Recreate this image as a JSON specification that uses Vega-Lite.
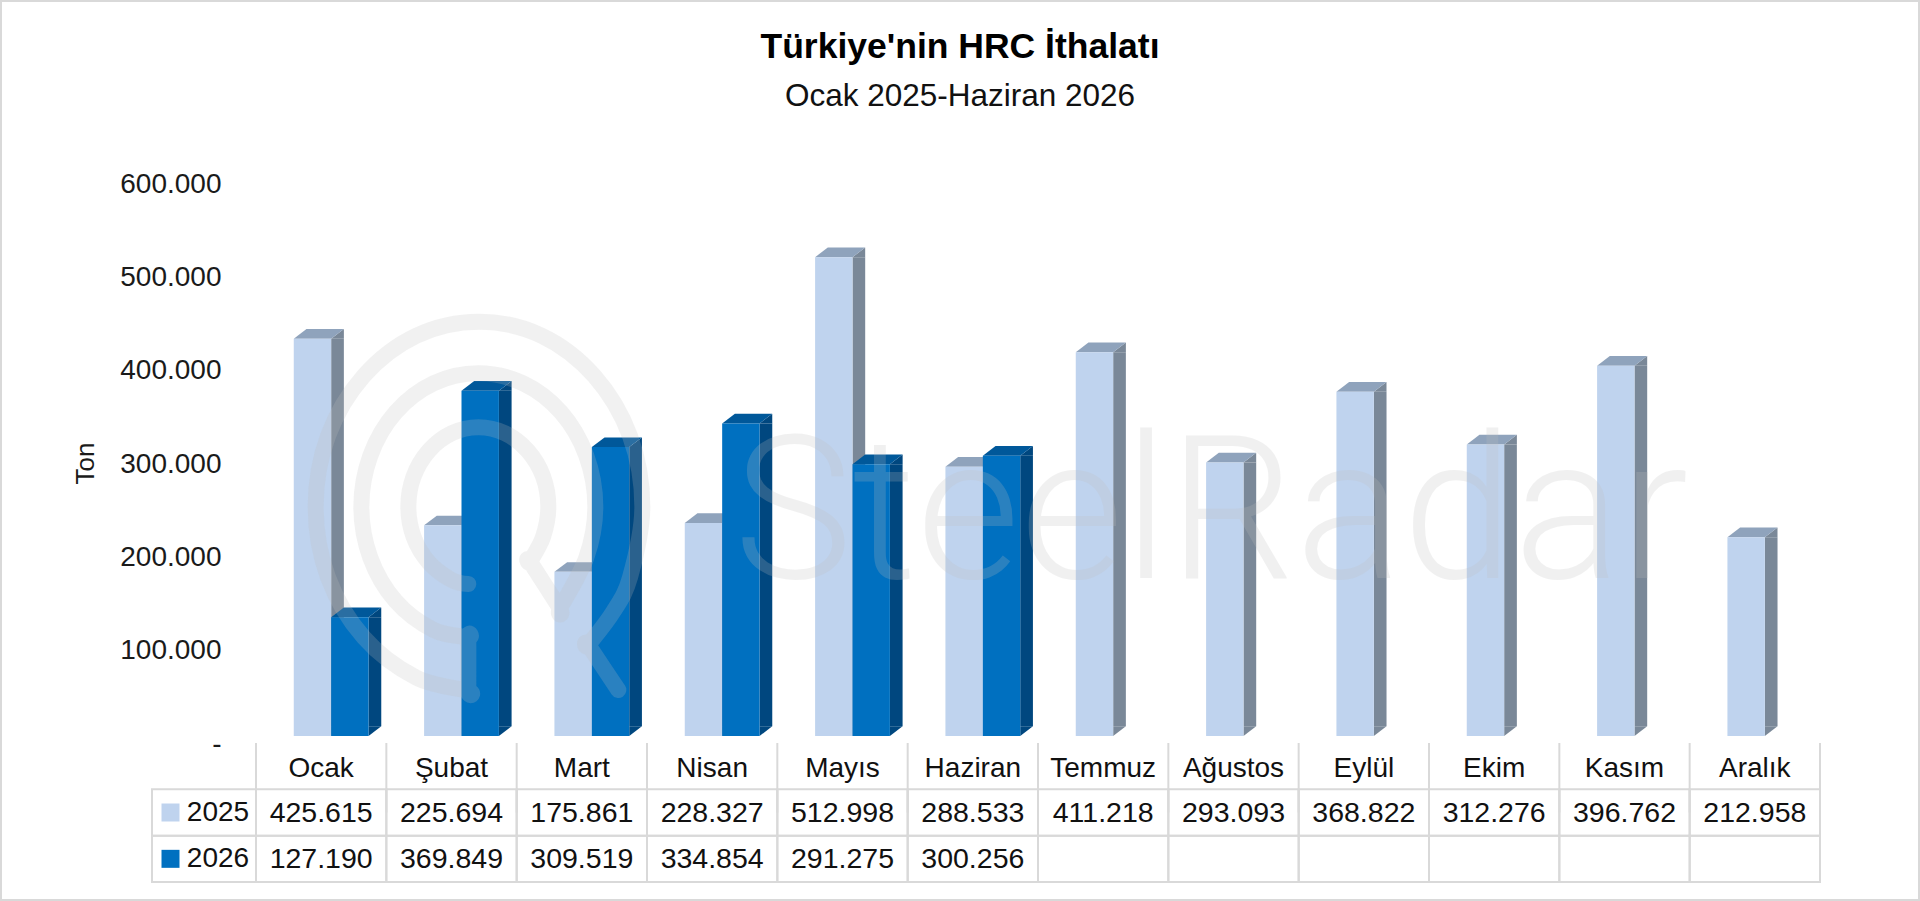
{
"$schema":"https://vega.github.io/schema/vega-lite/v6.json",
"width":1920,"height":901,"padding":0,"autosize":"none","background":"white",
"view":{"stroke":"#d9d9d9","strokeWidth":4,"fill":"white"},
"title":{"text":"Türkiye'nin HRC İthalatı","subtitle":"Ocak 2025-Haziran 2026","anchor":"middle","font":"Liberation Sans","fontWeight":"bold","fontSize":35.5,"color":"#000000","subtitleFont":"Liberation Sans","subtitleFontSize":31.5,"subtitleColor":"#111111","subtitlePadding":15,"dy":116,"frame":"group"},
"datasets":{
"bars":[
{"ay":"Ocak","yil":"2025","ton":425615},{"ay":"Şubat","yil":"2025","ton":225694},{"ay":"Mart","yil":"2025","ton":175861},{"ay":"Nisan","yil":"2025","ton":228327},{"ay":"Mayıs","yil":"2025","ton":512998},{"ay":"Haziran","yil":"2025","ton":288533},{"ay":"Temmuz","yil":"2025","ton":411218},{"ay":"Ağustos","yil":"2025","ton":293093},{"ay":"Eylül","yil":"2025","ton":368822},{"ay":"Ekim","yil":"2025","ton":312276},{"ay":"Kasım","yil":"2025","ton":396762},{"ay":"Aralık","yil":"2025","ton":212958},
{"ay":"Ocak","yil":"2026","ton":127190},{"ay":"Şubat","yil":"2026","ton":369849},{"ay":"Mart","yil":"2026","ton":309519},{"ay":"Nisan","yil":"2026","ton":334854},{"ay":"Mayıs","yil":"2026","ton":291275},{"ay":"Haziran","yil":"2026","ton":300256}
],
"table":[
{"ay":"Ocak","satir":"ay","metin":"Ocak"},{"ay":"Şubat","satir":"ay","metin":"Şubat"},{"ay":"Mart","satir":"ay","metin":"Mart"},{"ay":"Nisan","satir":"ay","metin":"Nisan"},{"ay":"Mayıs","satir":"ay","metin":"Mayıs"},{"ay":"Haziran","satir":"ay","metin":"Haziran"},{"ay":"Temmuz","satir":"ay","metin":"Temmuz"},{"ay":"Ağustos","satir":"ay","metin":"Ağustos"},{"ay":"Eylül","satir":"ay","metin":"Eylül"},{"ay":"Ekim","satir":"ay","metin":"Ekim"},{"ay":"Kasım","satir":"ay","metin":"Kasım"},{"ay":"Aralık","satir":"ay","metin":"Aralık"},
{"ay":"Ocak","satir":"2025","metin":"425.615"},{"ay":"Şubat","satir":"2025","metin":"225.694"},{"ay":"Mart","satir":"2025","metin":"175.861"},{"ay":"Nisan","satir":"2025","metin":"228.327"},{"ay":"Mayıs","satir":"2025","metin":"512.998"},{"ay":"Haziran","satir":"2025","metin":"288.533"},{"ay":"Temmuz","satir":"2025","metin":"411.218"},{"ay":"Ağustos","satir":"2025","metin":"293.093"},{"ay":"Eylül","satir":"2025","metin":"368.822"},{"ay":"Ekim","satir":"2025","metin":"312.276"},{"ay":"Kasım","satir":"2025","metin":"396.762"},{"ay":"Aralık","satir":"2025","metin":"212.958"},
{"ay":"Ocak","satir":"2026","metin":"127.190"},{"ay":"Şubat","satir":"2026","metin":"369.849"},{"ay":"Mart","satir":"2026","metin":"309.519"},{"ay":"Nisan","satir":"2026","metin":"334.854"},{"ay":"Mayıs","satir":"2026","metin":"291.275"},{"ay":"Haziran","satir":"2026","metin":"300.256"},{"ay":"Temmuz","satir":"2026","metin":""},{"ay":"Ağustos","satir":"2026","metin":""},{"ay":"Eylül","satir":"2026","metin":""},{"ay":"Ekim","satir":"2026","metin":""},{"ay":"Kasım","satir":"2026","metin":""},{"ay":"Aralık","satir":"2026","metin":""}
],
"legend":[{"kol":"seri","satir":"2025","yil":"2025"},{"kol":"seri","satir":"2026","yil":"2026"}],
"logo":[
{"i":0,"a":1015,"b":1170},{"i":1,"a":925,"b":1035},{"i":2,"a":925,"b":1035},{"i":3,"a":998,"b":938},{"i":4,"a":1050,"b":832},{"i":5,"a":1087,"b":620},{"i":6,"a":1050,"b":408},{"i":7,"a":943,"b":228},{"i":8,"a":785,"b":107},{"i":9,"a":597,"b":65},{"i":10,"a":409,"b":107},{"i":11,"a":251,"b":228},{"i":12,"a":144,"b":408},{"i":13,"a":107,"b":620},{"i":14,"a":144,"b":832},{"i":15,"a":251,"b":1012},{"i":16,"a":409,"b":1133},{"i":17,"a":565,"b":1172},{"i":18,"a":565,"b":1172},{"i":19,"a":565,"b":1012},{"i":20,"a":565,"b":1012},{"i":21,"a":461,"b":990},{"i":22,"a":347,"b":903},{"i":23,"a":271,"b":773},{"i":24,"a":244,"b":620},{"i":25,"a":271,"b":467},{"i":26,"a":347,"b":337},{"i":27,"a":461,"b":250},{"i":28,"a":595,"b":220},{"i":29,"a":729,"b":250},{"i":30,"a":843,"b":337},{"i":31,"a":919,"b":467},{"i":32,"a":946,"b":620},{"i":33,"a":919,"b":773},{"i":34,"a":840,"b":925},{"i":35,"a":840,"b":925},{"i":36,"a":750,"b":785},{"i":37,"a":750,"b":785},{"i":38,"a":789,"b":711},{"i":39,"a":805,"b":620},{"i":40,"a":789,"b":529},{"i":41,"a":743,"b":452},{"i":42,"a":675,"b":400},{"i":43,"a":595,"b":382},{"i":44,"a":515,"b":400},{"i":45,"a":447,"b":452},{"i":46,"a":401,"b":529},{"i":47,"a":385,"b":620},{"i":48,"a":401,"b":711},{"i":49,"a":447,"b":788},{"i":50,"a":515,"b":840},{"i":51,"a":565,"b":852}
],
"filigran":[{"metin":"SteelRadar","konum":511,"ton":169000}]
},
"resolve":{"scale":{"x":"independent","y":"independent","xOffset":"independent"},"axis":{"x":"independent","y":"independent"}},
"layer":[
{
"data":{"name":"bars"},
"transform":[{"filter":"datum.yil=='2025'"}],
"mark":{"type":"bar","fill":"#7A8898","stroke":null},
"encoding":{
"x":{"field":"ay","type":"nominal","axis":null,"sort":null,"scale":{"domain":["Ocak","Şubat","Mart","Nisan","Mayıs","Haziran","Temmuz","Ağustos","Eylül","Ekim","Kasım","Aralık"],"range":[272.35,1836.35],"paddingInner":0.9026,"paddingOuter":0.4513}},
"y":{"field":"ton","type":"quantitative","scale":{"domain":[0,600000],"range":[736,176],"nice":false},
"axis":{"values":[0,100000,200000,300000,400000,500000,600000],"labelExpr":"datum.value==0?'-':replace(format(datum.value,',.0f'),',','.')","offset":-221,"domain":false,"ticks":false,"tickSize":0,"grid":false,"labelPadding":0,"labelOffset":8,"labelFont":"Liberation Sans","labelFontSize":28,"labelColor":"#1a1a1a","title":"Ton","titleFont":"Liberation Sans","titleFontSize":26,"titleFontWeight":"normal","titleColor":"#1a1a1a","titleAngle":-90,"titleX":-136,"titleY":463,"titleAlign":"center","titleBaseline":"middle","labelOverlap":false}},
"y2":{"datum":10396}
}
},
{
"data":{"name":"bars"},
"transform":[{"filter":"datum.yil=='2025'"}],
"resolve":{"scale":{"x":"shared","y":"shared","xOffset":"shared"}},
"encoding":{
"x":{"field":"ay","type":"nominal","axis":null,"sort":null,"scale":{"domain":["Ocak","Şubat","Mart","Nisan","Mayıs","Haziran","Temmuz","Ağustos","Eylül","Ekim","Kasım","Aralık"],"range":[266,1830],"paddingInner":0.426,"paddingOuter":0.213}},
"xOffset":{"field":"yil","type":"nominal","sort":null,"scale":{"domain":["2025","2026"],"paddingInner":0,"paddingOuter":0}},
"y":{"field":"ton","type":"quantitative","axis":null,"scale":{"domain":[0,600000],"range":[736,176],"nice":false}}
},
"layer":[
{"mark":{"type":"point","shape":"M18.7 0L31.4 -9.7L31.4 0Z","size":4,"filled":true,"fill":"#7A8898","stroke":null,"opacity":1}},
{"mark":{"type":"point","shape":"M-18.7 0L-6 -9.7L31.4 -9.7L18.7 0Z","size":4,"filled":true,"fill":"#8FA3BC","stroke":null,"opacity":1}},
{"mark":{"type":"point","shape":"M18.7 0L31.4 -9.7L18.7 -9.7Z","size":4,"filled":true,"fill":"#7A8898","stroke":null,"opacity":1},"encoding":{"y":{"datum":0}}},
{"mark":{"type":"bar","fill":"#BFD3EE","stroke":null}}
]
},
{
"data":{"name":"bars"},
"transform":[{"filter":"datum.yil=='2026'"}],
"mark":{"type":"bar","fill":"#00477F","stroke":null},
"encoding":{
"x":{"field":"ay","type":"nominal","axis":null,"sort":null,"scale":{"domain":["Ocak","Şubat","Mart","Nisan","Mayıs","Haziran","Temmuz","Ağustos","Eylül","Ekim","Kasım","Aralık"],"range":[309.75,1873.75],"paddingInner":0.9026,"paddingOuter":0.4513}},
"y":{"field":"ton","type":"quantitative","axis":null,"scale":{"domain":[0,600000],"range":[736,176],"nice":false}},
"y2":{"datum":10396}
}
},
{
"data":{"name":"bars"},
"transform":[{"filter":"datum.yil=='2026'"}],
"resolve":{"scale":{"x":"shared","y":"shared","xOffset":"shared"}},
"encoding":{
"x":{"field":"ay","type":"nominal","axis":null,"sort":null,"scale":{"domain":["Ocak","Şubat","Mart","Nisan","Mayıs","Haziran","Temmuz","Ağustos","Eylül","Ekim","Kasım","Aralık"],"range":[266,1830],"paddingInner":0.426,"paddingOuter":0.213}},
"xOffset":{"field":"yil","type":"nominal","sort":null,"scale":{"domain":["2025","2026"],"paddingInner":0,"paddingOuter":0}},
"y":{"field":"ton","type":"quantitative","axis":null,"scale":{"domain":[0,600000],"range":[736,176],"nice":false}}
},
"layer":[
{"mark":{"type":"point","shape":"M18.7 0L31.4 -9.7L31.4 0Z","size":4,"filled":true,"fill":"#00477F","stroke":null,"opacity":1}},
{"mark":{"type":"point","shape":"M-18.7 0L-6 -9.7L31.4 -9.7L18.7 0Z","size":4,"filled":true,"fill":"#00589A","stroke":null,"opacity":1}},
{"mark":{"type":"point","shape":"M18.7 0L31.4 -9.7L18.7 -9.7Z","size":4,"filled":true,"fill":"#00477F","stroke":null,"opacity":1},"encoding":{"y":{"datum":0}}},
{"mark":{"type":"bar","fill":"#0070C0","stroke":null}}
]
},
{
"data":{"name":"filigran"},
"mark":{"type":"text","font":"Roboto","fontWeight":300,"fontSize":200,"align":"center","baseline":"alphabetic","fill":"#bfbfbf","opacity":0.22},
"encoding":{
"x":{"field":"konum","type":"quantitative","axis":null,"scale":{"domain":[0,1000],"range":[700,1700],"nice":false,"zero":false}},
"y":{"field":"ton","type":"quantitative","axis":null,"scale":{"domain":[0,600000],"range":[736,176],"nice":false}},
"text":{"field":"metin"}
}
},
{
"data":{"name":"logo"},
"mark":{"type":"line","interpolate":"cardinal","tension":0,"stroke":"#bfbfbf","strokeOpacity":0.22,"strokeWidth":16,"strokeCap":"round","strokeJoin":"round"},
"encoding":{
"x":{"field":"a","type":"quantitative","axis":null,"scale":{"domain":[0,1200],"range":[280,680],"nice":false,"zero":false}},
"y":{"field":"b","type":"quantitative","axis":null,"scale":{"domain":[0,1320],"range":[300,740],"nice":false,"zero":false}},
"order":{"field":"i","type":"quantitative"}
}
},
{
"data":{"name":"table"},
"encoding":{
"x":{"field":"ay","type":"nominal","axis":null,"sort":null,"scale":{"domain":["Ocak","Şubat","Mart","Nisan","Mayıs","Haziran","Temmuz","Ağustos","Eylül","Ekim","Kasım","Aralık"],"range":[256,1820],"paddingInner":0,"paddingOuter":0}},
"y":{"field":"satir","type":"nominal","axis":null,"sort":null,"scale":{"domain":["ay","2025","2026"],"range":[743,882],"paddingInner":0,"paddingOuter":0}}
},
"layer":[
{"transform":[{"filter":"datum.satir!='ay'"}],"mark":{"type":"rect","fill":"white","fillOpacity":0,"stroke":"#d9d9d9","strokeWidth":2}},
{"transform":[{"filter":"datum.satir=='ay'"}],"mark":{"type":"rule","stroke":"#d9d9d9","strokeWidth":2},"encoding":{"x":{"field":"ay","type":"nominal","bandPosition":0},"y":{"datum":"ay","bandPosition":0},"y2":{"datum":"2025"}}},
{"transform":[{"filter":"datum.satir=='ay' && datum.ay=='Aralık'"}],"mark":{"type":"rule","stroke":"#d9d9d9","strokeWidth":2},"encoding":{"x":{"field":"ay","type":"nominal","bandPosition":1},"y":{"datum":"ay","bandPosition":0},"y2":{"datum":"2025"}}},
{"transform":[{"filter":"datum.satir=='ay'"}],"mark":{"type":"text","font":"Liberation Sans","fontSize":28,"fill":"#111111","align":"center","baseline":"middle","dy":3},"encoding":{"text":{"field":"metin"}}},
{"transform":[{"filter":"datum.satir!='ay'"}],"mark":{"type":"text","font":"Liberation Sans","fontSize":28.5,"fill":"#111111","align":"center","baseline":"middle"},"encoding":{"text":{"field":"metin"}}}
]
},
{
"data":{"name":"legend"},
"encoding":{
"x":{"field":"kol","type":"nominal","axis":null,"scale":{"domain":["seri"],"range":[152,256],"paddingInner":0,"paddingOuter":0}},
"y":{"field":"satir","type":"nominal","axis":null,"sort":null,"scale":{"domain":["ay","2025","2026"],"range":[743,882],"paddingInner":0,"paddingOuter":0}}
},
"layer":[
{"mark":{"type":"rect","fillOpacity":0,"stroke":"#d9d9d9","strokeWidth":2}},
{"mark":{"type":"point","shape":"square","filled":true,"size":324,"xOffset":-33.5,"opacity":1},"encoding":{"color":{"field":"yil","type":"nominal","legend":null,"scale":{"domain":["2025","2026"],"range":["#BFD3EE","#0070C0"]}}}},
{"mark":{"type":"text","font":"Liberation Sans","fontSize":28,"fill":"#111111","align":"center","baseline":"middle","dx":14},"encoding":{"text":{"field":"yil"}}}
]
}
]
}
